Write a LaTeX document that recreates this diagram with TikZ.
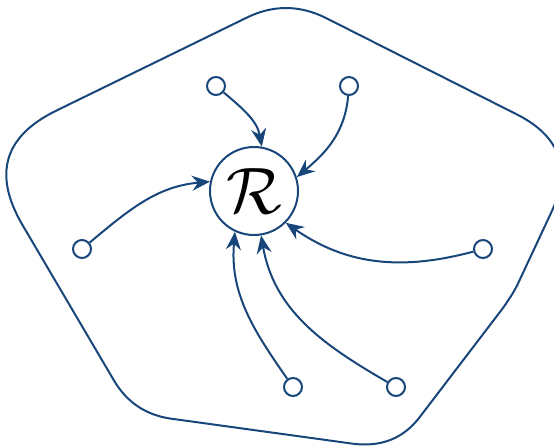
\documentclass[tikz,border=0pt]{standalone}
\usepackage{amsmath}
\usepackage{amssymb}
\usepackage{graphicx}
\usepackage{tikz}
\usepackage{xcolor}
\usetikzlibrary{arrows.meta}
\definecolor{ringblue}{RGB}{24,70,122}

\begin{document}
\begin{tikzpicture}[x=0.5pt,y=0.5pt,
  member/.style={circle, draw=ringblue, line width=1pt, fill=white, minimum size=9pt, inner sep=0pt},
  feed/.style={draw=ringblue, line width=1pt, -{Stealth[length=9pt,width=7.5pt,inset=3pt]}}]
\useasboundingbox (0,0) rectangle (554,447);
% outer boundary
\draw[ringblue, line width=1pt] (326,429) -- (518,332) .. controls (560.7,310) and (571.7,277.3) .. (551,234)
  -- (518.5,164.5) .. controls (514.2,155.2) and (509,147.7) .. (503,139)
  -- (419.5,29.6) .. controls (403.2,8.5) and (381.7,0.3) .. (355,3)
  -- (170.6,28.4) .. controls (145.5,32.1) and (126.6,44.9) .. (113.8,66.8)
  -- (22.5,222) .. controls (-7.2,272.7) and (3.7,311) .. (57,336.7)
  -- (246,429) .. controls (272.7,442.3) and (299.3,442.3) .. cycle;
\node[circle, draw=ringblue, line width=1pt, minimum size=44pt, inner sep=0pt] (R) at (254,256) {\scalebox{1.32}{\fontsize{24.88}{30}\selectfont$\mathcal{R}$}};
\node[member] (m1) at (216,361) {};
\node[member] (m2) at (349,361) {};
\node[member] (m3) at (82,198) {};
\node[member] (m4) at (483,198) {};
\node[member] (m5) at (293,60) {};
\node[member] (m6) at (396,60) {};
\draw[feed] (m1) to[out=-40,in=100] (R.80);
\draw[feed] (m2) to[out=-95,in=40] (R.18);
\draw[feed] (m3) to[out=40,in=185] (R.168);
\draw[feed] (m4) to[out=195,in=-35] (R.-45);
\draw[feed] (m5) to[out=125,in=-95] (R.-115);
\draw[feed] (m6) to[out=150,in=-80] (R.-81);
\end{tikzpicture}
\end{document}
